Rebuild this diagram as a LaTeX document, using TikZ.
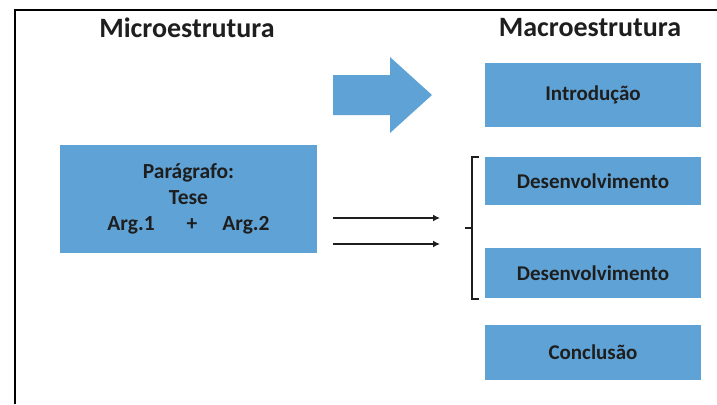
\documentclass[tikz,border=0pt]{standalone}
\usepackage{fontspec}
\setmainfont{Carlito}
\usetikzlibrary{arrows.meta}
\definecolor{boxblue}{RGB}{95,163,214}
\definecolor{txt}{RGB}{30,30,30}
\begin{document}
\begin{tikzpicture}[x=1pt,y=-1pt,
  bluebox/.style={fill=boxblue,draw=none,inner sep=0pt,minimum width=216pt,text=txt,font=\bfseries\fontsize{21}{24}\selectfont},
  title/.style={text=txt,font=\bfseries\fontsize{28}{32}\selectfont},
  conn/.style={line width=1.4pt,draw=txt,-{Latex[length=7pt,width=7pt]}},
  brack/.style={line width=1.4pt,draw=txt}]
\useasboundingbox (0,0) rectangle (717,404);
\draw[line width=1.8pt] (15,404) -- (15,10) -- (717,10);
\node[title] (micro) at (187,28) {Microestrutura};
\node[title] (macro) at (590,28) {Macroestrutura};
\node[bluebox,minimum width=257pt,minimum height=108pt,align=center,
  font=\bfseries\fontsize{21.5}{26}\selectfont] (para) at (188.5,199)
  {Parágrafo:\\Tese\\Arg.1\hspace{32pt}+\hspace{25pt}Arg.2};
\node[bluebox,minimum height=64pt] (intro) at (593,95) {Introdução};
\node[bluebox,minimum height=48pt] (dev1) at (593,181) {Desenvolvimento};
\node[bluebox,minimum height=50pt] (dev2) at (593,273) {Desenvolvimento};
\node[bluebox,minimum height=55pt] (conc) at (593,352.5) {Conclusão};
% big arrow
\fill[boxblue] (333,75) -- (390,75) -- (390,57) -- (432,95) -- (390,133) -- (390,115) -- (333,115) -- cycle;
% small arrows
\coordinate (s1) at (333,218);
\coordinate (e1) at (440,218);
\coordinate (s2) at (333,244);
\coordinate (e2) at (440,244);
\draw[conn] (s1) -- (e1);
\draw[conn] (s2) -- (e2);
% bracket
\draw[brack] (479,157) -- (472,157) -- (472,299) -- (479,299);
\draw[brack] (472,228) -- (465,228);
\end{tikzpicture}
\end{document}
